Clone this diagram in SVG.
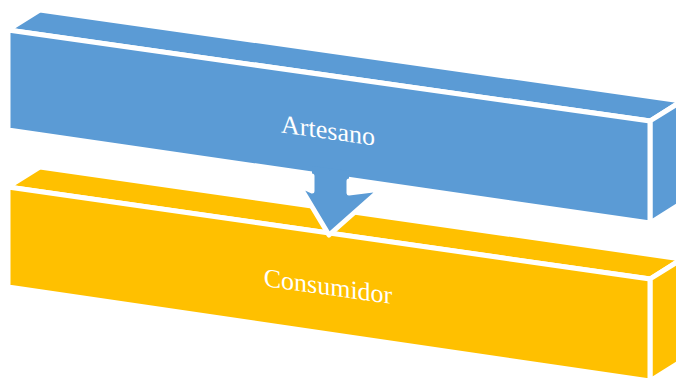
<svg xmlns="http://www.w3.org/2000/svg" width="676" height="378" viewBox="0 0 676 378">
  <style>
    .face { stroke: #FFFFFF; stroke-width: 5; stroke-linejoin: miter; }
    .blue { fill: #5B9BD5; }
    .orange { fill: #FFC000; }
    .label { font-family: "Liberation Serif", "Times New Roman", serif; font-size: 26px; fill: #FFFFFF; text-anchor: middle; }
    .arrow-fill { fill: #5B9BD5; stroke: none; }
    .arrow-edge { fill: none; stroke: #FFFFFF; stroke-width: 5; stroke-linejoin: round; stroke-linecap: round; }
  </style>
  <rect width="676" height="378" fill="#FFFFFF"/>

  <g id="node-consumidor">
    <polygon class="face orange" points="8,187 40,167 682,259 650,279"/>
    <polygon class="face orange" points="650,279 682,259 682,361 650,381"/>
    <polygon class="face orange" points="8,187 650,279 650,381 8,287"/>
    <text class="label" transform="translate(328,295) skewY(8)" x="0" y="0">Consumidor</text>
  </g>

  <g id="node-artesano">
    <polygon class="face blue" points="8,30 40,10 682,101 650,121"/>
    <polygon class="face blue" points="650,121 682,101 682,203 650,223"/>
    <polygon class="face blue" points="8,30 650,121 650,223 8,130"/>
    <text class="label" transform="translate(328,139) skewY(8)" x="0" y="0">Artesano</text>
  </g>

  <g id="connectors">
    <path class="arrow-fill" d="M312,166 L312,191 L299,185 L329,235 L381,189 L349,193 L349,171 Z"/>
    <path class="arrow-edge" d="M312,176 L312,191 L299,185 L329,235 L381,189 L349,193 L349,181"/>
  </g>
</svg>
